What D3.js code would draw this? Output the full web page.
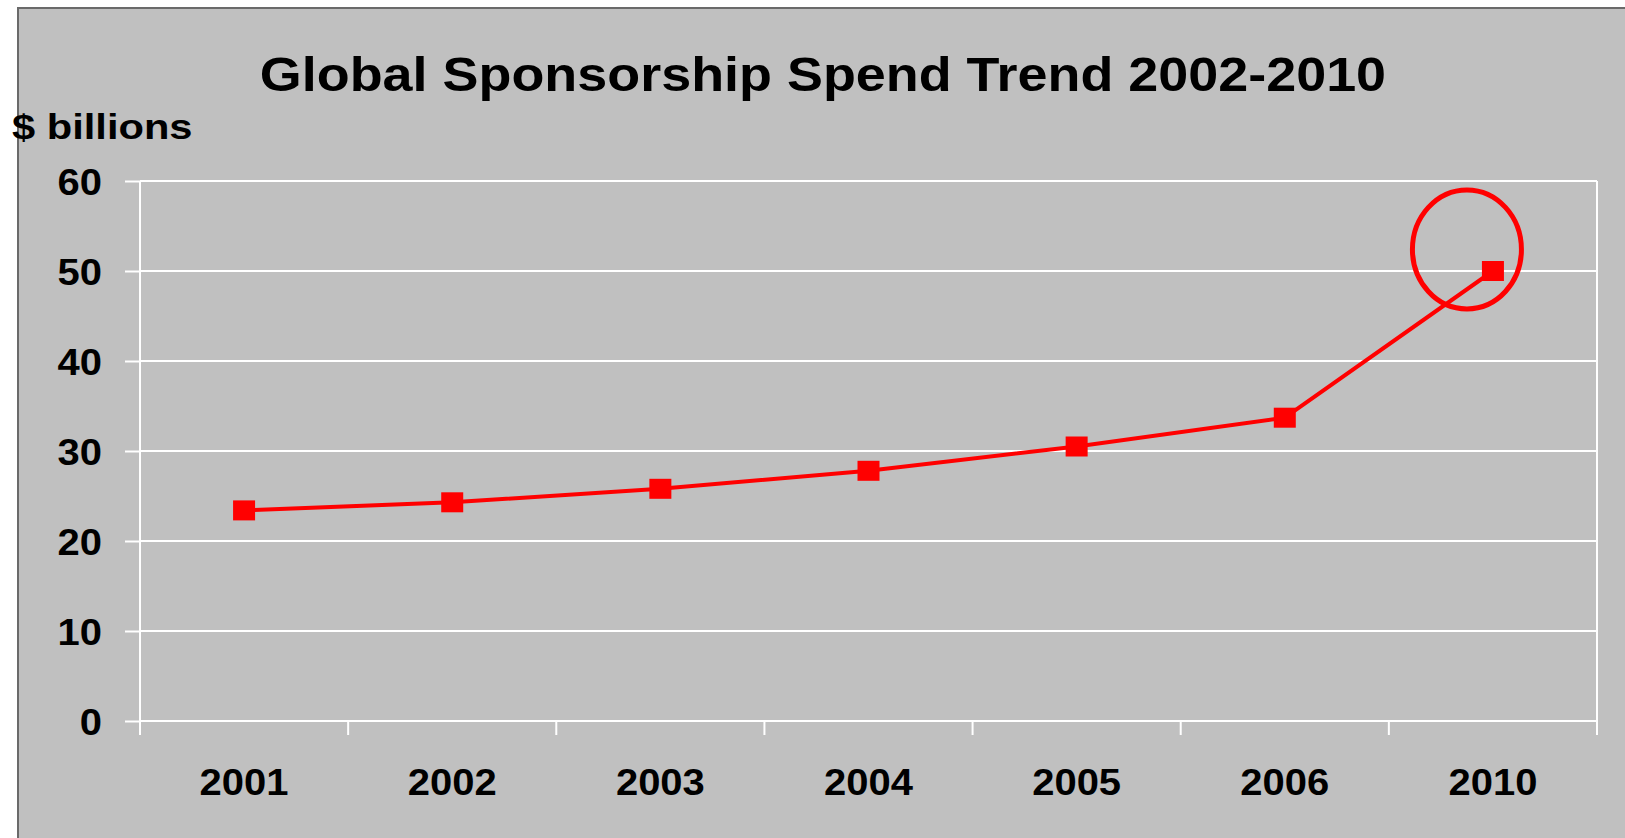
<!DOCTYPE html>
<html>
<head>
<meta charset="utf-8">
<script src="https://cdn.jsdelivr.net/npm/d3@7"></script>
<style>
  html, body { margin: 0; padding: 0; background: #ffffff; }
  svg { display: block; }
  text { font-family: "Liberation Sans", Arial, sans-serif; font-weight: bold; fill: #000; }
</style>
</head>
<body>
<script>
// ---- data ----
const categories = ["2001", "2002", "2003", "2004", "2005", "2006", "2010"];
const spend = [23.4, 24.3, 25.8, 27.8, 30.5, 33.7, 50];
const yTicks = [0, 10, 20, 30, 40, 50, 60];
const titleText = "Global Sponsorship Spend Trend 2002-2010";
const yAxisLabel = "$ billions";
const highlightCategory = "2010";
const highlightValue = 52.4;

// ---- layout ----
const W = 1625, H = 838;
const plot = { left: 140, right: 1597, top: 181, bottom: 721 };

const svg = d3.select("body").append("svg").attr("width", W).attr("height", H);

// outer frame
svg.append("rect")
  .attr("x", 18).attr("y", 8).attr("width", W + 10).attr("height", H + 10)
  .attr("fill", "#c0c0c0").attr("stroke", "#6a6a6a").attr("stroke-width", 2);

const x = d3.scaleBand().domain(categories).range([plot.left, plot.right]).padding(0);
const y = d3.scaleLinear().domain([0, 60]).range([plot.bottom, plot.top]);

function stretch(sel, f) {
  sel.each(function () {
    const len = this.getComputedTextLength();
    d3.select(this).attr("textLength", len * f).attr("lengthAdjust", "spacingAndGlyphs");
  });
}

// gridlines + y ticks
const yAxis = d3.axisLeft(y).tickValues(yTicks).tickSize(15).tickPadding(23).tickFormat(d3.format("d"));
const gy = svg.append("g").attr("transform", `translate(${plot.left},0)`).call(yAxis);
gy.select(".domain").remove();
gy.selectAll(".tick line").attr("stroke", "#ffffff").attr("stroke-width", 2);
gy.selectAll(".tick text").attr("font-size", 37).attr("dy", 13.3).attr("fill", "#000")
  .attr("font-family", "Liberation Sans, Arial, sans-serif").attr("font-weight", "bold");
stretch(gy.selectAll(".tick text"), 1.08);

svg.append("g").selectAll("line.grid").data(yTicks).join("line")
  .attr("x1", plot.left).attr("x2", plot.right)
  .attr("y1", d => y(d)).attr("y2", d => y(d))
  .attr("stroke", "#ffffff").attr("stroke-width", 2);

// left axis line & right border
svg.append("line").attr("x1", plot.left).attr("x2", plot.left)
  .attr("y1", plot.top).attr("y2", plot.bottom + 14)
  .attr("stroke", "#ffffff").attr("stroke-width", 2);

// category boundary ticks
const boundaries = categories.map(c => x(c) + x.bandwidth());
svg.append("g").selectAll("line").data(boundaries).join("line")
  .attr("x1", d => d).attr("x2", d => d)
  .attr("y1", plot.bottom).attr("y2", plot.bottom + 14)
  .attr("stroke", "#ffffff").attr("stroke-width", 2);
svg.append("line").attr("x1", plot.right).attr("x2", plot.right)
  .attr("y1", plot.top).attr("y2", plot.bottom)
  .attr("stroke", "#ffffff").attr("stroke-width", 2);

// x labels
const xl = svg.append("g").selectAll("text").data(categories).join("text")
  .attr("x", d => x(d) + x.bandwidth() / 2).attr("y", 795)
  .attr("text-anchor", "middle").attr("font-size", 37).text(d => d);
stretch(xl, 1.08);

// line
const cx = c => x(c) + x.bandwidth() / 2;
const line = d3.line().x((d, i) => cx(categories[i])).y(d => y(d));
svg.append("path").datum(spend).attr("d", line)
  .attr("fill", "none").attr("stroke", "#ff0000").attr("stroke-width", 4).attr("stroke-linejoin", "round");

svg.append("g").selectAll("rect").data(spend).join("rect")
  .attr("x", (d, i) => cx(categories[i]) - 11).attr("y", d => y(d) - 10)
  .attr("width", 22).attr("height", 20).attr("fill", "#ff0000");

// highlight ellipse
svg.append("ellipse")
  .attr("cx", cx(highlightCategory) - 26).attr("cy", y(highlightValue))
  .attr("rx", 54.5).attr("ry", 59.5)
  .attr("fill", "none").attr("stroke", "#ff0000").attr("stroke-width", 5);

// title
const t = svg.append("text").attr("x", 823).attr("y", 91).attr("text-anchor", "middle")
  .attr("font-size", 49).text(titleText);
stretch(t, 1.1);

// y axis label
const yl = svg.append("text").attr("x", 12).attr("y", 139).attr("font-size", 35).text(yAxisLabel);
stretch(yl, 1.19);
</script>
</body>
</html>
